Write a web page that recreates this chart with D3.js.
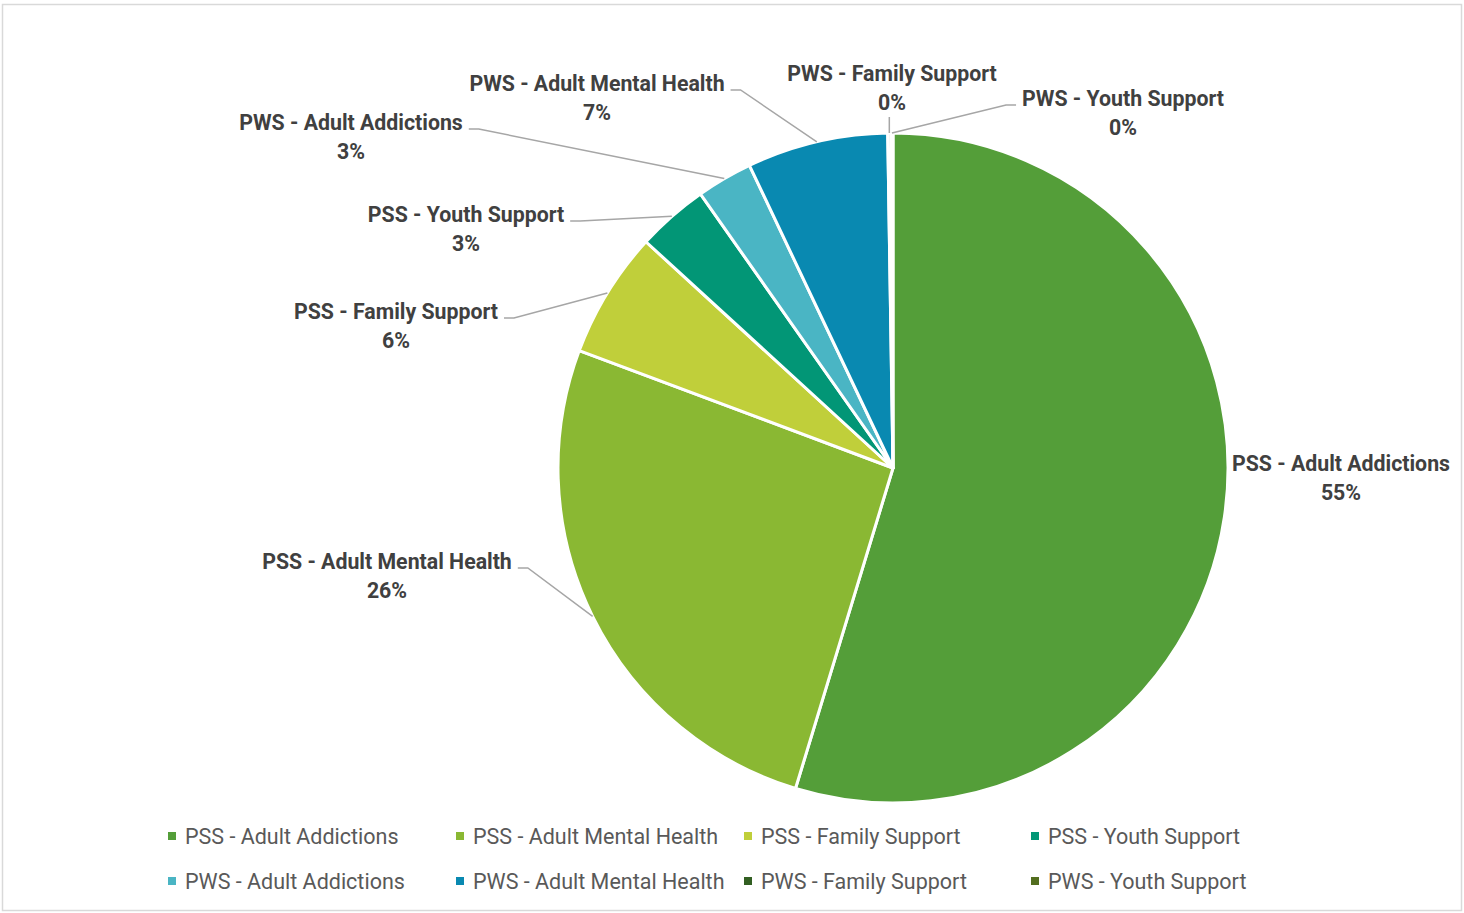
<!DOCTYPE html>
<html>
<head>
<meta charset="utf-8">
<script src="https://cdn.jsdelivr.net/npm/d3@7"></script>
<style>
  html, body { margin: 0; padding: 0; background: #fff; }
  svg { display: block; font-family: Roboto, "Open Sans", sans-serif; }
</style>
</head>
<body>
<svg id="chart" width="1464" height="913"></svg>
<script>
// Share of clients by program and service stream (percent)
const categories = [
  "PSS - Adult Addictions",
  "PSS - Adult Mental Health",
  "PSS - Family Support",
  "PSS - Youth Support",
  "PWS - Adult Addictions",
  "PWS - Adult Mental Health",
  "PWS - Family Support",
  "PWS - Youth Support"
];
const shares = [54.7, 26.0, 6.1, 3.45, 2.7, 6.8, 0.15, 0.1];
const colors = ["#549E39", "#8AB833", "#C0CF3A", "#029676", "#4AB5C4", "#0989B1", "#325F22", "#536E1F"];

// Label placement: centre x, first-line baseline y, side the leader leaves from
const labelLayout = [
  { x: 1341, y: 471, leader: "none" },
  { x: 387,  y: 569, leader: "right" },
  { x: 396,  y: 319, leader: "right" },
  { x: 466,  y: 222, leader: "right" },
  { x: 351,  y: 130, leader: "right" },
  { x: 597,  y: 91,  leader: "right" },
  { x: 892,  y: 81,  leader: "below" },
  { x: 1123, y: 106, leader: "left" }
];

const svg = d3.select("#chart");
const W = 1464, H = 913;

// chart frame
svg.append("rect")
  .attr("x", 2.5).attr("y", 4.5)
  .attr("width", W - 5).attr("height", H - 7)
  .attr("fill", "#fff").attr("stroke", "#d9d9d9").attr("stroke-width", 1.5);

const cx = 893, cy = 468, r = 335;
const data = categories.map((c, i) => ({ name: c, value: shares[i], color: colors[i], layout: labelLayout[i] }));
const total = d3.sum(shares);

const pie = d3.pie().value(d => d.value).sort(null);
const arcs = pie(data);
const arc = d3.arc().innerRadius(0).outerRadius(r);
const edge = d3.arc().innerRadius(r).outerRadius(r);

const g = svg.append("g").attr("transform", `translate(${cx},${cy})`);
g.selectAll("path.slice")
  .data(arcs)
  .join("path")
  .attr("class", "slice")
  .attr("d", arc)
  .attr("fill", d => d.data.color)
  .attr("stroke", "#fff")
  .attr("stroke-width", 3)
  .attr("stroke-linejoin", "round");

const pct = d3.format(".0%");
const labels = svg.append("g");
const lineGap = 29;

arcs.forEach(a => {
  const L = a.data.layout;
  const t = labels.append("text")
    .attr("text-anchor", "middle")
    .attr("font-size", 21.3)
    .attr("font-weight", 700)
    .attr("fill", "#404040");
  t.append("tspan").attr("x", L.x).attr("y", L.y).text(a.data.name);
  t.append("tspan").attr("x", L.x).attr("y", L.y + lineGap).text(pct(a.data.value / total));

  if (L.leader === "none") return;
  const w = t.select("tspan").node().getComputedTextLength();
  const [ex, ey] = edge.centroid(a);
  const end = [cx + ex, cy + ey];
  let pts;
  if (L.leader === "right") {
    const sx = L.x + w / 2 + 6, sy = L.y - 1;
    pts = [[sx, sy], [sx + 10, sy], end];
  } else if (L.leader === "left") {
    const sx = L.x - w / 2 - 6, sy = L.y - 1;
    pts = [[sx, sy], [sx - 10, sy], end];
  } else {
    pts = [[end[0], L.y + lineGap + 7], end];
  }
  labels.append("path")
    .attr("d", d3.line()(pts))
    .attr("fill", "none")
    .attr("stroke", "#a6a6a6")
    .attr("stroke-width", 1.5);
});

// legend: two rows of four
const legend = svg.append("g");
const colX = [168, 456, 744, 1031];
const rowY = [836, 881];
data.forEach((d, i) => {
  const x = colX[i % 4], y = rowY[Math.floor(i / 4)];
  legend.append("rect")
    .attr("x", x).attr("y", y - 4)
    .attr("width", 8).attr("height", 8)
    .attr("fill", d.color);
  legend.append("text")
    .attr("x", x + 17).attr("y", y + 7.5)
    .attr("font-size", 21.5)
    .attr("fill", "#595959")
    .text(d.name);
});
</script>
</body>
</html>
